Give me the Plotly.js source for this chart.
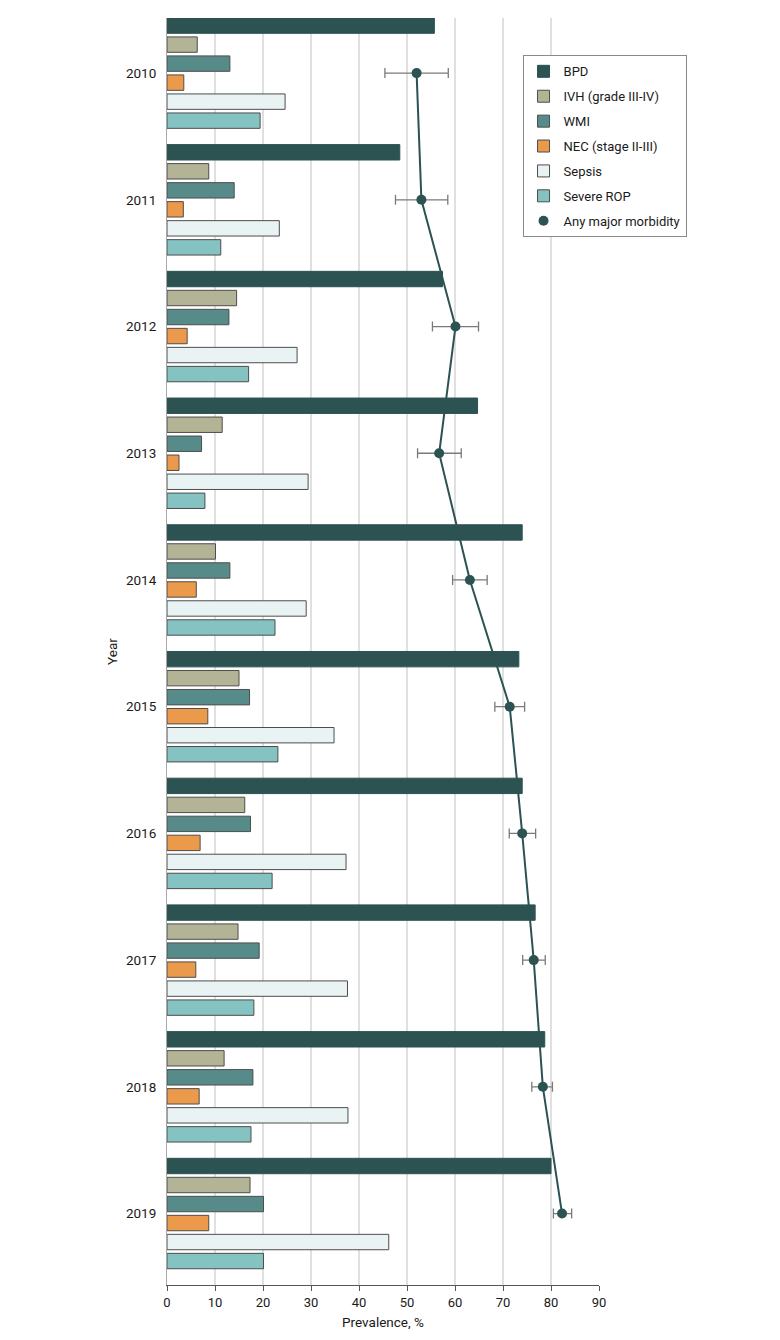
<!DOCTYPE html>
<html>
<head>
<meta charset="utf-8">
<script src="https://cdn.plot.ly/plotly-3.0.1.min.js"></script>
<style>
  html, body { margin: 0; padding: 0; background: #fff; }
  #chart { width: 780px; height: 1340px; }
</style>
</head>
<body>
<div id="chart"></div>
<script>
// Prevalence of major morbidities by year, %

const years = ["2010", "2011", "2012", "2013", "2014", "2015", "2016", "2017", "2018", "2019"];

const bpd    = [55.7, 48.5, 57.4, 64.7, 74.0, 73.3, 74.0, 76.7, 78.7, 80.0];
const ivh    = [6.3, 8.7, 14.5, 11.5, 10.1, 15.0, 16.2, 14.8, 11.9, 17.3];
const wmi    = [13.1, 14.0, 12.9, 7.2, 13.1, 17.2, 17.4, 19.2, 17.9, 20.1];
const nec    = [3.5, 3.4, 4.2, 2.5, 6.1, 8.5, 6.9, 6.0, 6.7, 8.7];
const sepsis = [24.6, 23.4, 27.1, 29.4, 29.0, 34.8, 37.3, 37.6, 37.7, 46.2];
const rop    = [19.4, 11.2, 17.0, 7.9, 22.5, 23.1, 21.9, 18.1, 17.5, 20.1];

// Any major morbidity with 95% CI
const anyMorb = [52.0, 53.0, 60.1, 56.7, 63.1, 71.4, 74.0, 76.4, 78.3, 82.3];
const ciLow   = [45.4, 47.6, 55.3, 52.2, 59.5, 68.3, 71.3, 74.1, 76.0, 80.5];
const ciHigh  = [58.6, 58.5, 64.9, 61.3, 66.7, 74.5, 76.8, 78.8, 80.3, 84.3];

const DARK = "#2c5252";
const OUTLINE = "#4d4d4d";

const barSeries = [
    { name: "BPD",                 x: bpd,    color: DARK,      line: DARK },
    { name: "IVH (grade III-IV)",  x: ivh,    color: "#b3b396", line: OUTLINE },
    { name: "WMI",                 x: wmi,    color: "#578b8a", line: OUTLINE },
    { name: "NEC (stage II-III)",  x: nec,    color: "#eb9a4b", line: OUTLINE },
    { name: "Sepsis",              x: sepsis, color: "#e9f3f3", line: OUTLINE },
    { name: "Severe ROP",          x: rop,    color: "#85c2c2", line: OUTLINE },
];

const traces = barSeries.map((s, i) => ({
    type: "bar",
    orientation: "h",
    name: s.name,
    legendgroup: "g" + i,
    y: years,
    x: s.x,
    marker: { color: s.color, line: { color: s.line, width: 1 } },
    hoverinfo: "x+name",
}));

// connecting line (no legend entry) + points with CI
traces.push({
    type: "scatter",
    mode: "lines",
    showlegend: false,
    y: years,
    x: anyMorb,
    line: { color: DARK, width: 2 },
    hoverinfo: "skip",
});
traces.push({
    type: "scatter",
    mode: "markers",
    name: "Any major morbidity",
    legendgroup: "g6",
    y: years,
    x: anyMorb,
    marker: { color: DARK, size: 10 },
    error_x: {
        type: "data",
        symmetric: false,
        array: anyMorb.map((v, i) => ciHigh[i] - v),
        arrayminus: anyMorb.map((v, i) => v - ciLow[i]),
        color: "#7a7a7a",
        thickness: 1.3,
        width: 5,
    },
});

const font = { family: "Roboto, 'Open Sans', sans-serif", size: 13, color: "#1a1a1a" };

const layout = {
    width: 780,
    height: 1340,
    paper_bgcolor: "#fff",
    plot_bgcolor: "#fff",
    margin: { t: 18, b: 55, l: 167, r: 181 },
    font: font,
    barmode: "group",
    bargap: 0.1,
    bargroupgap: 0.19,
    showlegend: true,
    legend: {
        x: 0.823, y: 0.9705,
        xanchor: "left", yanchor: "top",
        bgcolor: "#fff",
        bordercolor: "#8a8a8a",
        borderwidth: 1,
        traceorder: "grouped",
        tracegroupgap: 5,
        font: { size: 13, color: "#1a1a1a" },
    },
    xaxis: {
        range: [0, 90],
        dtick: 10,
        tick0: 0,
        showgrid: true,
        gridcolor: "#e0e0e0",
        gridwidth: 1.5,
        zeroline: false,
        showline: true,
        linecolor: "#555",
        linewidth: 1,
        ticks: "outside",
        ticklen: 5,
        tickcolor: "#555",
        title: { text: "Prevalence, %", font: { size: 13.5 }, standoff: 8 },
    },
    yaxis: {
        type: "category",
        categoryorder: "array",
        categoryarray: years,
        range: [9.564, -0.435],
        showgrid: false,
        zeroline: false,
        showline: true,
        linecolor: "#a8a8a8",
        linewidth: 1,
        ticks: "",
        ticklabelstandoff: 7,
        tickfont: { size: 13.5 },
        title: { text: "Year", font: { size: 13.5 }, standoff: 5 },
    },
};

Plotly.newPlot("chart", traces, layout, { displayModeBar: false, staticPlot: true });
</script>
</body>
</html>
